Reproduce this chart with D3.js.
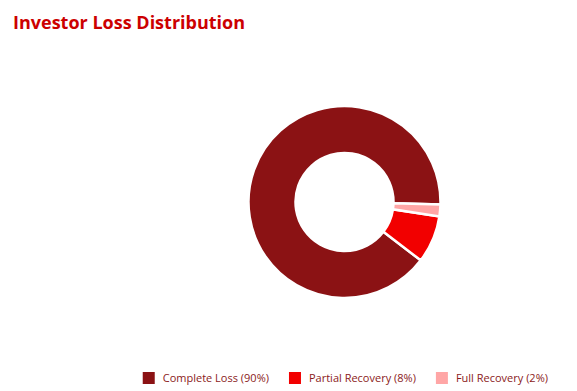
<!DOCTYPE html>
<html>

<head>
    <meta charset="UTF-8">
    <title>Investor Loss Distribution</title>
    <script src="https://d3js.org/d3.v7.min.js"></script>
    <style>
        body { margin: 0; background: #fff; }
        text { font-family: "Open Sans", sans-serif; }
    </style>
</head>

<body>
    <div class="canvas"></div>

    <script>
        // chart data
        const categories = ["Complete Loss", "Partial Recovery", "Full Recovery"];
        const shares = [90, 8, 2];
        const colors = ["#8b1214", "#f20000", "#ffa6a6"];

        const width = 577;
        const height = 391;
        const center = { x: 344.5, y: 202 };
        const outerRadius = 96;
        const innerRadius = 49;

        const svg = d3.select(".canvas")
            .append("svg")
            .attr("width", width)
            .attr("height", height);

        // title
        svg.append("text")
            .attr("x", 13)
            .attr("y", 29)
            .attr("fill", "#cc0000")
            .style("font-size", "18px")
            .style("font-weight", "bold")
            .text("Investor Loss Distribution");

        const data = categories.map((c, i) => ({ name: c, value: shares[i] }));

        const color = d3.scaleOrdinal()
            .domain(categories)
            .range(colors);

        // pie goes counter-clockwise from just below 3 o'clock
        const start = Math.PI / 2 + 0.025;
        const pie = d3.pie()
            .sort(null)
            .value((d) => d.value)
            .startAngle(start)
            .endAngle(start - 2 * Math.PI);

        const arc = d3.arc()
            .innerRadius(innerRadius)
            .outerRadius(outerRadius);

        const graph = svg.append("g")
            .attr("transform", `translate(${center.x}, ${center.y})`);

        graph.selectAll("path")
            .data(pie(data))
            .enter()
            .append("path")
            .attr("d", arc)
            .attr("fill", (d) => color(d.data.name))
            .attr("stroke", "#fff")
            .attr("stroke-width", 2.5)
            .attr("stroke-linejoin", "miter");

        // legend
        const legend = svg.append("g");
        const items = legend.selectAll("g")
            .data(data)
            .enter()
            .append("g");

        items.append("rect")
            .attr("width", 12)
            .attr("height", 12)
            .attr("y", 372)
            .attr("fill", (d) => color(d.name));

        items.append("text")
            .attr("x", 20)
            .attr("y", 382)
            .attr("fill", "#8b1a1a")
            .style("font-size", "11px")
            .text((d) => `${d.name} (${d.value}%)`);

        // place items left to right, ending near the right edge
        let x = 0;
        const offsets = [];
        items.each(function () {
            offsets.push(x);
            x += 20 + this.querySelector("text").getComputedTextLength() + 20;
        });
        const legendStart = 548 - (x - 20);
        items.attr("transform", (d, i) => `translate(${legendStart + offsets[i]}, 0)`);
    </script>
</body>

</html>
